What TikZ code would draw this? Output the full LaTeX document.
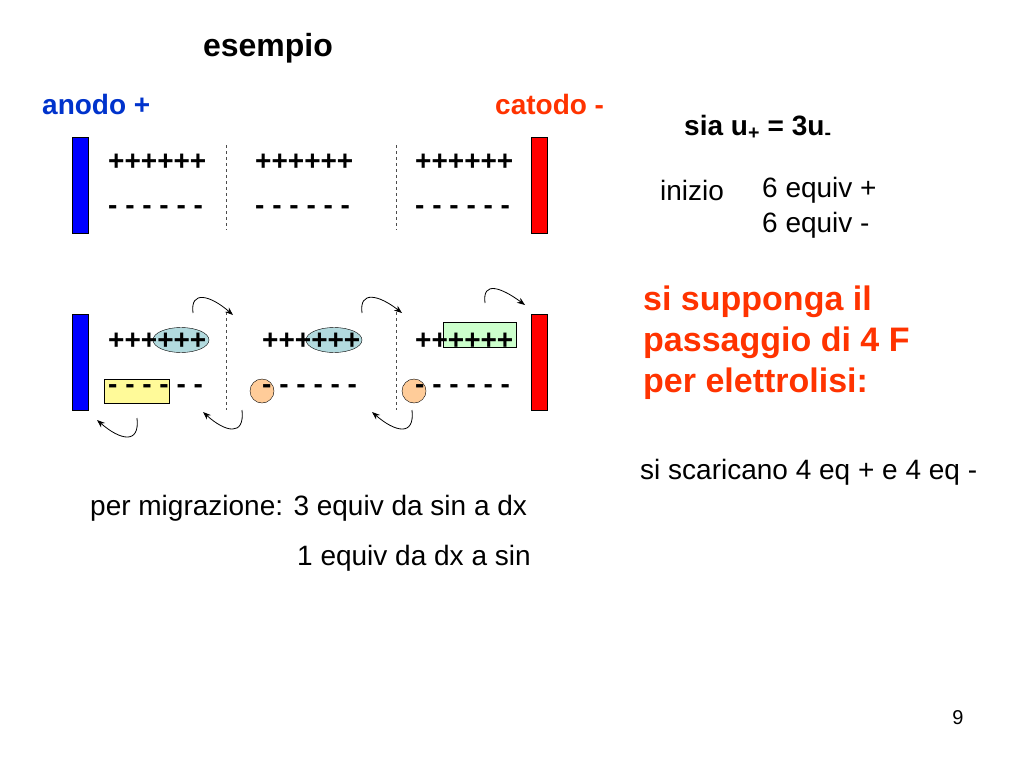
\documentclass[tikz,border=0pt]{standalone}
\usepackage{fontspec}
\setmainfont{Liberation Sans}
\usetikzlibrary{shapes.geometric,arrows.meta}
\definecolor{catred}{RGB}{255,51,0}
\definecolor{anblue}{RGB}{0,51,204}
\definecolor{oval}{RGB}{178,218,222}
\tikzset{
  txt/.style={inner sep=0pt,anchor=west,font=\fontsize{28}{32}\selectfont},
  btxt/.style={txt,font=\fontsize{28}{32}\selectfont\bfseries},
  ions/.style={inner sep=0pt,anchor=west,font=\fontsize{28}{30}\selectfont\bfseries},
  anode/.style={draw=black,fill=blue,minimum width=16pt,minimum height=96pt,inner sep=0pt},
  cathode/.style={draw=black,fill=red,minimum width=16pt,minimum height=96pt,inner sep=0pt},
  wall/.style={dashed,black!70},
  move/.style={-{Stealth[length=8pt,width=6pt]},line width=0.8pt},
}
\begin{document}
\begin{tikzpicture}[x=1pt,y=-1pt]
    \useasboundingbox (0,0) rectangle (1024,768);
    \node[btxt,anchor=center,font=\fontsize{32}{36}\selectfont\bfseries] (esempio) at (268,48) {esempio};
    \node[btxt,text=anblue] (anodo) at (42,104) {anodo +};
    \node[btxt,text=catred] (catodo) at (495,104) {catodo -};
    \node[btxt] (sia) at (684,127) {sia u\textsubscript{+} = 3u\textsubscript{-}};

    % inizio
    \node[anode] (A1) at (80,185) {};
    \node[cathode] (C1) at (539,185) {};
    \draw[wall] (226,145) -- (226,230);
    \draw[wall] (396,145) -- (396,230);
    \foreach \x/\n in {108/a,255/b,415/c} {
      \node[ions] (p1\n) at (\x,162) {++++++};
      \node[ions] (m1\n) at (\x,210) {- - - - - -};
    }
    \node[txt] (inizio) at (660,190) {inizio};
    \node[txt] (eqp) at (762,190) {6 equiv +};
    \node[txt] (eqm) at (762,225) {6 equiv -};

    % dopo 4 F
    \node[anode] (A2) at (80,362) {};
    \node[cathode] (C2) at (539,362) {};
    \draw[wall] (226,312) -- (226,410);
    \draw[wall] (396,312) -- (396,410);
    \node[ellipse,draw,fill=oval,minimum width=56pt,minimum height=25pt] (e1) at (181,340) {};
    \node[ellipse,draw,fill=oval,minimum width=56pt,minimum height=25pt] (e2) at (334,340) {};
    \node[draw,fill=green!20,minimum width=73pt,minimum height=25pt,inner sep=0pt] (g1) at (479.5,334.5) {};
    \node[draw,fill=yellow!40,minimum width=65pt,minimum height=24pt,inner sep=0pt] (y1) at (136.5,391) {};
    \node[circle,draw,fill=orange!40,minimum size=24pt,inner sep=0pt] (o1) at (262,391) {};
    \node[circle,draw,fill=orange!40,minimum size=24pt,inner sep=0pt] (o2) at (414,391) {};
    \foreach \x/\n in {108/a,262/b,415/c} {
      \node[ions] (p2\n) at (\x,341) {++++++};
      \node[ions] (m2\n) at (\x,389) {- - - - - -};
    }
    \coordinate (t1) at (193,313); \coordinate (t1e) at (233,315);
    \coordinate (t2) at (362,313); \coordinate (t2e) at (402,313);
    \coordinate (t3) at (485,303); \coordinate (t3e) at (525,305);
    \draw[move] (t1) .. controls (190,290) and (210,295) .. (t1e);
    \draw[move] (t2) .. controls (359,290) and (379,295) .. (t2e);
    \draw[move] (t3) .. controls (482,280) and (502,288) .. (t3e);
    \coordinate (b1) at (137,418); \coordinate (b1e) at (97,420);
    \coordinate (b2) at (242,410); \coordinate (b2e) at (203,412);
    \coordinate (b3) at (412,410); \coordinate (b3e) at (372,412);
    \draw[move] (b1) .. controls (140,445) and (120,440) .. (b1e);
    \draw[move] (b2) .. controls (245,437) and (225,432) .. (b2e);
    \draw[move] (b3) .. controls (415,437) and (395,432) .. (b3e);

    \node[btxt,text=catred,font=\fontsize{34}{41}\selectfont\bfseries,align=left,anchor=north west] (supp) at (643,286) {si supponga il\\passaggio di 4 F\\per elettrolisi:};
    \node[txt] (scar) at (640,472) {si scaricano 4 eq + e 4 eq -};
    \node[txt] (migr) at (90,508) {per migrazione: 3 equiv da sin a dx};
    \node[txt] (migr2) at (297,558) {1 equiv da dx a sin};
    \node[inner sep=0pt,font=\fontsize{20}{22}\selectfont] (page) at (958,718) {9};
\end{tikzpicture}
\end{document}
